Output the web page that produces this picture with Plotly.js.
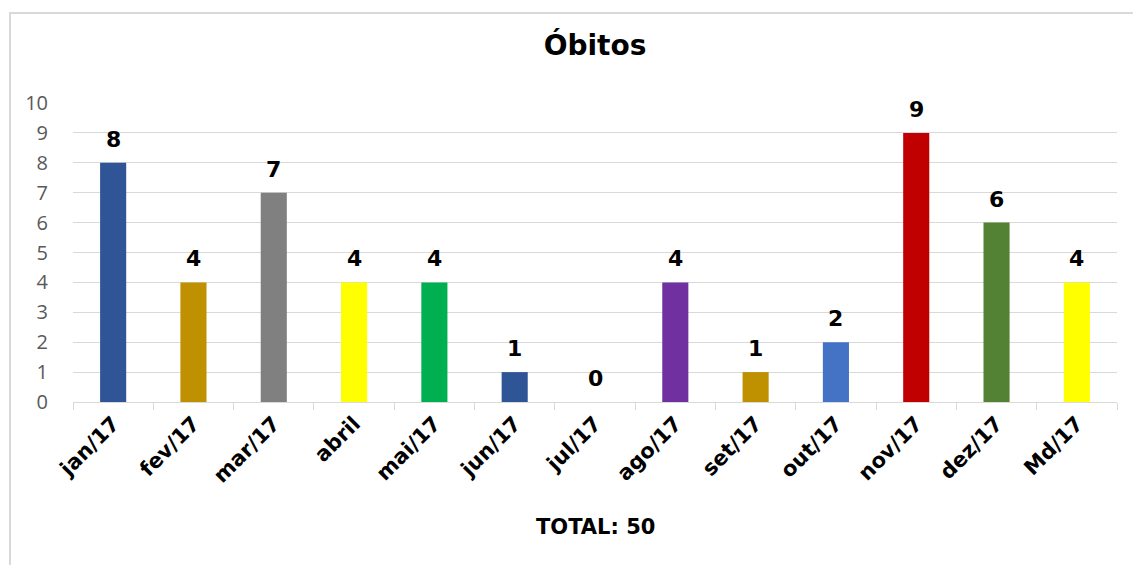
<!DOCTYPE html>
<html>
<head>
<meta charset="utf-8">
<script src="https://cdn.plot.ly/plotly-3.0.1.min.js"></script>
<style>
html,body{margin:0;padding:0;background:#fff;overflow:hidden;}
#frame{position:absolute;left:9px;top:12px;width:1140px;height:600px;border:2px solid #d9d9d9;box-sizing:border-box;pointer-events:none;z-index:2;}
#chart{position:absolute;left:0;top:0;width:1133px;height:565px;}
</style>
</head>
<body>
<div id="chart"></div>
<div id="frame"></div>
<script>
const categories = ["jan/17","fev/17","mar/17","abril","mai/17","jun/17","jul/17","ago/17","set/17","out/17","nov/17","dez/17","Md/17"];
const values = [8,4,7,4,4,1,0,4,1,2,9,6,4];
const barColors = ["#2F5597","#BF9000","#808080","#FFFF00","#00B050","#2F5597","#2F5597","#7030A0","#BF9000","#4472C4","#C00000","#548235","#FFFF00"];
const yTicks = [0,1,2,3,4,5,6,7,8,9,10];
const totalLabel = "TOTAL: 50";

const trace = {
  type: "bar",
  x: categories,
  y: values,
  marker: {color: barColors},
  hoverinfo: "x+y"
};

const labelAnnotations = categories.map((c, i) => ({
  x: c, y: values[i], xref: "x", yref: "y",
  text: "<b>" + values[i] + "</b>",
  showarrow: false, yanchor: "bottom", yshift: 9,
  font: {family: "DejaVu Sans", size: 22, color: "#000"}
}));

const layout = {
  width: 1133, height: 565,
  margin: {l: 73, r: 16, t: 103, b: 163},
  paper_bgcolor: "rgba(0,0,0,0)",
  plot_bgcolor: "rgba(0,0,0,0)",
  bargap: 0.675,
  showlegend: false,
  title: {
    text: "<b>Óbitos</b>",
    font: {family: "DejaVu Sans", size: 28, color: "#000"},
    x: 0.5, xref: "paper", y: 1 - 45/565, yref: "container", yanchor: "middle"
  },
  xaxis: {
    type: "category",
    tickangle: -45,
    tickfont: {family: "DejaVu Sans", size: 21, color: "#000", weight: "bold"},
    showline: true, linecolor: "#d9d9d9", linewidth: 1,
    ticks: "outside", tickson: "boundaries", ticklen: 7, tickcolor: "#d9d9d9",
    showgrid: false, zeroline: false
  },
  yaxis: {
    range: [0, 10],
    tickvals: yTicks,
    tickfont: {family: "Open Sans", size: 20, color: "#595959"},
    showgrid: true, gridcolor: "#d9d9d9", gridwidth: 1,
    zeroline: false, showline: false,
    ticks: "outside", ticklen: 20, tickcolor: "rgba(0,0,0,0)"
  },
  annotations: labelAnnotations.concat([{
    text: "<b>" + totalLabel + "</b>",
    xref: "paper", yref: "paper", x: 0.5, y: (402 - 527) / 299,
    xanchor: "center", yanchor: "middle", showarrow: false,
    font: {family: "DejaVu Sans", size: 21, color: "#000"}
  }])
};

Plotly.newPlot("chart", [trace], layout, {displayModeBar: false, staticPlot: true});
</script>
</body>
</html>
